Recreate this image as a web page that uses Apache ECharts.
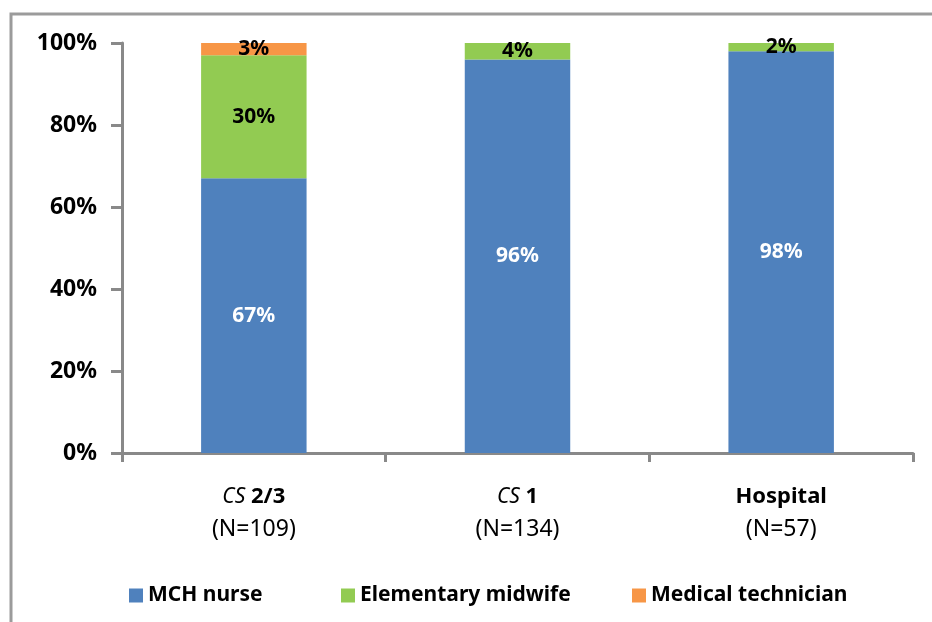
<!DOCTYPE html>
<html>
<head>
<meta charset="utf-8">
<script src="https://cdn.jsdelivr.net/npm/echarts@6/dist/echarts.min.js"></script>
<style>
  html, body { margin: 0; padding: 0; background: #fff; }
  #chart { width: 932px; height: 622px; }
</style>
</head>
<body>
<div id="chart"></div>
<script>
// Facility types and sample sizes
const categories = ['CS 2/3', 'CS 1', 'Hospital'];
const sampleSizes = [109, 134, 57];

// Share of staff by cadre (%)
const seriesNames = ['MCH nurse', 'Elementary midwife', 'Medical technician'];
const mchNurse = [67, 96, 98];
const elementaryMidwife = [30, 4, 2];
const medicalTechnician = [3, 0, 0];

// Y axis ticks (%)
const yTicks = [0, 20, 40, 60, 80, 100];

const colors = ['#4F81BD', '#92CB52', '#F79646'];
const font = 'Noto Sans';
const axisGray = '#898989';

function categoryLabel(value, idx) {
  const n = '{n|(N=' + sampleSizes[idx] + ')}';
  if (value.indexOf('CS ') === 0) {
    return '{i|CS}{b| ' + value.slice(3) + '}\n' + n;
  }
  return '{b|' + value + '}\n' + n;
}

const seriesValues = [mchNurse, elementaryMidwife, medicalTechnician];
const labelColors = ['#ffffff', '#000000', '#000000'];

const chart = echarts.init(document.getElementById('chart'));
chart.setOption({
  animation: false,
  textStyle: { fontFamily: font },
  graphic: [{
    type: 'rect',
    shape: { x: 11, y: 14, width: 1000, height: 700 },
    style: { fill: null, stroke: '#9b9b9b', lineWidth: 3 },
    silent: true
  }],
  grid: { left: 122, right: 19, top: 43, bottom: 169, containLabel: false },
  legend: [0, 1, 2].map(function (k) {
    return {
      data: [seriesNames[k]],
      left: [124, 336, 627][k],
      top: 580,
      itemWidth: 14,
      itemHeight: 14,
      itemGap: 8,
      icon: 'rect',
      textStyle: { fontFamily: font, fontSize: 21, fontWeight: 'bold', color: '#000' }
    };
  }),
  xAxis: {
    type: 'category',
    data: categories,
    axisLine: { lineStyle: { color: axisGray, width: 3 } },
    axisTick: { show: true, alignWithLabel: false, length: 9, lineStyle: { color: axisGray, width: 3 } },
    axisLabel: {
      margin: 28,
      formatter: categoryLabel,
      rich: {
        i: { fontFamily: font, fontSize: 21, fontStyle: 'italic', color: '#000', lineHeight: 32 },
        b: { fontFamily: font, fontSize: 22, fontWeight: 'bold', color: '#000', lineHeight: 32 },
        n: { fontFamily: font, fontSize: 23, color: '#000', lineHeight: 32 }
      }
    }
  },
  yAxis: {
    type: 'value',
    min: yTicks[0],
    max: yTicks[yTicks.length - 1],
    interval: yTicks[1] - yTicks[0],
    splitLine: { show: false },
    axisLine: { show: true, lineStyle: { color: axisGray, width: 3 } },
    axisTick: { show: true, length: 11, lineStyle: { color: axisGray, width: 3 } },
    axisLabel: {
      margin: 25,
      formatter: '{value}%',
      fontFamily: font,
      fontSize: 23,
      fontWeight: 'bold',
      color: '#000'
    }
  },
  series: seriesValues.map(function (vals, k) {
    return {
      name: seriesNames[k],
      type: 'bar',
      stack: 'total',
      barWidth: '40%',
      data: vals,
      itemStyle: { color: colors[k] },
      label: {
        show: true,
        position: 'inside',
        formatter: function (p) { return p.value > 0 ? p.value + '%' : ''; },
        fontFamily: font,
        fontSize: 21,
        fontWeight: 'bold',
        color: labelColors[k]
      }
    };
  })
});
</script>
</body>
</html>
